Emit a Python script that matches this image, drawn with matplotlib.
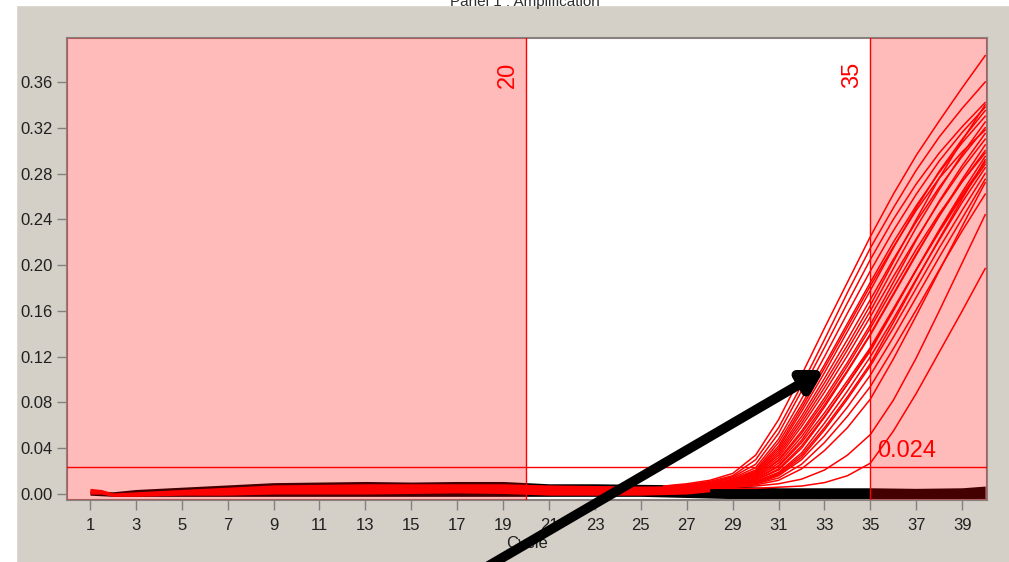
import numpy as np
import matplotlib
matplotlib.use("Agg")
import matplotlib.pyplot as plt

plt.rcParams['font.family'] = ['Liberation Sans', 'DejaVu Sans']

# rising part of the amplification curves, cycles 26..40
late_cycles = np.arange(26, 41)
red_curves = [
    [0.007, 0.009, 0.012, 0.018, 0.034, 0.065, 0.104, 0.145, 0.185, 0.225, 0.262, 0.296, 0.326, 0.355, 0.383],
    [0.007, 0.008, 0.011, 0.016, 0.030, 0.058, 0.095, 0.135, 0.176, 0.215, 0.250, 0.283, 0.312, 0.337, 0.360],
    [0.006, 0.008, 0.010, 0.015, 0.026, 0.053, 0.090, 0.128, 0.167, 0.205, 0.240, 0.271, 0.298, 0.321, 0.342],
    [0.006, 0.007, 0.010, 0.014, 0.023, 0.048, 0.083, 0.120, 0.158, 0.195, 0.230, 0.262, 0.291, 0.316, 0.338],
    [0.006, 0.007, 0.009, 0.013, 0.021, 0.045, 0.078, 0.113, 0.149, 0.185, 0.220, 0.252, 0.281, 0.307, 0.330],
    [0.005, 0.007, 0.009, 0.012, 0.019, 0.040, 0.072, 0.106, 0.142, 0.178, 0.215, 0.250, 0.282, 0.310, 0.335],
    [0.005, 0.006, 0.008, 0.012, 0.018, 0.038, 0.068, 0.101, 0.135, 0.170, 0.205, 0.238, 0.268, 0.295, 0.320],
    [0.005, 0.006, 0.008, 0.011, 0.017, 0.034, 0.062, 0.093, 0.126, 0.160, 0.197, 0.233, 0.266, 0.297, 0.325],
    [0.005, 0.006, 0.008, 0.011, 0.016, 0.032, 0.059, 0.089, 0.121, 0.155, 0.190, 0.223, 0.255, 0.284, 0.310],
    [0.005, 0.006, 0.007, 0.010, 0.015, 0.030, 0.055, 0.084, 0.115, 0.148, 0.185, 0.222, 0.256, 0.287, 0.315],
    [0.005, 0.006, 0.007, 0.010, 0.014, 0.027, 0.050, 0.078, 0.108, 0.140, 0.175, 0.210, 0.243, 0.273, 0.300],
    [0.005, 0.006, 0.007, 0.009, 0.013, 0.025, 0.047, 0.076, 0.107, 0.139, 0.174, 0.209, 0.243, 0.275, 0.305],
    [0.005, 0.005, 0.007, 0.009, 0.012, 0.022, 0.042, 0.068, 0.096, 0.125, 0.160, 0.196, 0.230, 0.262, 0.290],
    [0.005, 0.005, 0.006, 0.008, 0.012, 0.021, 0.040, 0.067, 0.096, 0.127, 0.161, 0.196, 0.231, 0.264, 0.295],
    [0.004, 0.005, 0.006, 0.008, 0.011, 0.019, 0.036, 0.062, 0.090, 0.120, 0.153, 0.188, 0.222, 0.255, 0.285],
    [0.004, 0.005, 0.006, 0.008, 0.010, 0.017, 0.032, 0.056, 0.083, 0.112, 0.145, 0.180, 0.215, 0.248, 0.280],
    [0.004, 0.005, 0.006, 0.007, 0.009, 0.016, 0.030, 0.051, 0.076, 0.104, 0.137, 0.172, 0.207, 0.241, 0.275],
    [0.004, 0.005, 0.005, 0.007, 0.009, 0.014, 0.026, 0.045, 0.068, 0.094, 0.127, 0.161, 0.196, 0.230, 0.262],
    [0.004, 0.004, 0.005, 0.006, 0.008, 0.012, 0.022, 0.038, 0.058, 0.083, 0.118, 0.156, 0.195, 0.234, 0.272],
    [0.004, 0.004, 0.005, 0.006, 0.007, 0.009, 0.013, 0.021, 0.034, 0.052, 0.082, 0.119, 0.160, 0.202, 0.244],
    [0.004, 0.004, 0.005, 0.005, 0.005, 0.006, 0.007, 0.010, 0.016, 0.027, 0.055, 0.088, 0.124, 0.160, 0.197],
    [0.006, 0.007, 0.009, 0.012, 0.020, 0.042, 0.075, 0.110, 0.146, 0.182, 0.216, 0.248, 0.276, 0.299, 0.318],
    [0.005, 0.006, 0.007, 0.010, 0.015, 0.029, 0.053, 0.081, 0.112, 0.145, 0.180, 0.214, 0.245, 0.273, 0.298],
    [0.005, 0.005, 0.007, 0.009, 0.013, 0.024, 0.045, 0.071, 0.099, 0.128, 0.162, 0.196, 0.229, 0.260, 0.288],
    [0.005, 0.006, 0.008, 0.011, 0.017, 0.036, 0.065, 0.097, 0.130, 0.165, 0.203, 0.240, 0.276, 0.309, 0.340],
    [0.004, 0.005, 0.006, 0.008, 0.010, 0.018, 0.034, 0.058, 0.085, 0.114, 0.150, 0.187, 0.223, 0.258, 0.292],
]

# baseline band of the red (positive) curves
red_band_x = [1, 1.5, 2, 3, 5, 7, 9, 11, 13, 15, 17, 19, 21, 23, 25, 27, 28]
red_band_top = [0.005, 0.004, 0.001, 0.002, 0.004, 0.006, 0.008, 0.0085, 0.009, 0.009, 0.009, 0.009, 0.008, 0.0075, 0.007, 0.0075, 0.008]
red_band_low = [0.000, 0.000, -0.002, -0.002, -0.001, -0.001, 0.000, 0.000, 0.000, 0.0005, 0.001, 0.0005, -0.001, -0.001, -0.001, 0.000, 0.002]

# band of the black (negative) curves
black_x = [1, 2, 3, 5, 7, 9, 11, 13, 15, 17, 19, 21, 23, 25, 27, 29, 31, 33, 35, 37, 39, 40]
black_top = [0.003, 0.002, 0.004, 0.006, 0.008, 0.010, 0.0105, 0.011, 0.0105, 0.011, 0.011, 0.009, 0.009, 0.0085, 0.008, 0.007, 0.0055, 0.0055, 0.0055, 0.005, 0.0055, 0.007]
black_low = [-0.001, -0.002, -0.002, -0.002, -0.002, -0.002, -0.002, -0.002, -0.002, -0.002, -0.002, -0.002, -0.002, -0.002, -0.003, -0.004, -0.006, -0.006, -0.006, -0.006, -0.006, -0.006]

threshold = 0.024
range_start, range_end = 20, 35
y_ticks = [0.00, 0.04, 0.08, 0.12, 0.16, 0.20, 0.24, 0.28, 0.32, 0.36]
x_ticks = list(range(1, 40, 2))

fig = plt.figure(figsize=(10.09, 5.62), dpi=100, facecolor='#d4d0c8')
ax = fig.add_axes([0.0664, 0.1103, 0.9118, 0.8212])
ax.set_facecolor('white')

ax.fill_between(black_x, black_low, black_top, color='black', lw=0, zorder=2)
ax.fill_between(red_band_x, red_band_low, red_band_top, color='red', lw=0, zorder=3)
for row in red_curves:
    ax.plot(late_cycles, row, color='red', lw=1.1, zorder=4)

# red translucent overlay outside the analysis range
ax.axvspan(0, range_start, color='red', alpha=0.27, lw=0, zorder=5)
ax.axvspan(range_end, 41, color='red', alpha=0.27, lw=0, zorder=5)

ax.axhline(threshold, color='red', lw=1.0, zorder=6)
ax.axvline(range_start, color='red', lw=1.0, zorder=6)
ax.axvline(range_end, color='red', lw=1.0, zorder=6)
ax.text(range_start - 0.3, 0.378, '20', rotation=90, color='red', fontsize=17,
        ha='right', va='top', zorder=7)
ax.text(range_end - 0.3, 0.378, '35', rotation=90, color='red', fontsize=17,
        ha='right', va='top', zorder=7)
ax.text(range_end + 0.3, threshold + 0.004, '0.024', color='red', fontsize=17,
        ha='left', va='bottom', zorder=7)

ax.set_xlim(0, 40.08)
ax.set_ylim(-0.0052, 0.398)
ax.set_xticks(x_ticks)
ax.set_yticks(y_ticks)
ax.set_yticklabels(['%.2f' % v for v in y_ticks])
ax.tick_params(axis='both', colors='#808080', labelcolor='#202020', labelsize=12,
               length=7, width=1)
ax.tick_params(axis='x', pad=6)
for s in ax.spines.values():
    s.set_color('#8a8080')
    s.set_linewidth(1.5)
ax.set_xlabel('Cycle', fontsize=12, color='#202020', labelpad=2)

# white strips of the screenshot edge and the clipped title
fig.patches.append(plt.Rectangle((0, 0), 16 / 1009, 1, transform=fig.transFigure,
                                 color='white', zorder=10))
fig.patches.append(plt.Rectangle((0, 1 - 5 / 562), 1, 5 / 562, transform=fig.transFigure,
                                 color='white', zorder=10))
fig.text(0.52, 0.997, 'Panel 1 : Amplification', ha='center', va='center',
         fontsize=11, color='#303030', zorder=11)

# pointer arrow
ax.annotate('', xy=(824, 562 - 370), xycoords='figure pixels',
            xytext=(478, -10), textcoords='figure pixels',
            arrowprops=dict(arrowstyle='-|>,head_length=1.2,head_width=0.7',
                            color='black', lw=7, shrinkA=0, shrinkB=0),
            annotation_clip=False, zorder=12)

fig.savefig('out.png', dpi=100, facecolor=fig.get_facecolor())
